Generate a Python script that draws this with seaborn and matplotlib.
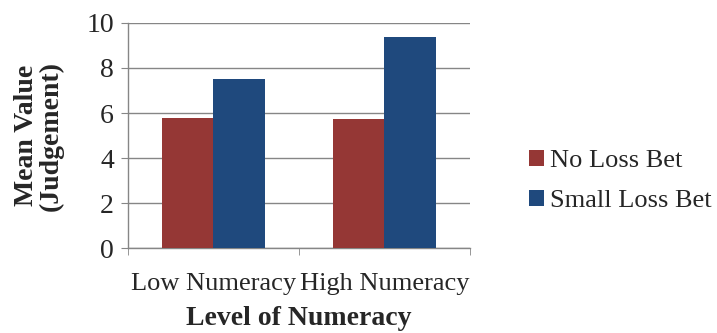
import pandas as pd
import seaborn as sns
import matplotlib.pyplot as plt
from matplotlib.ticker import FixedLocator

# ---- Data ----
groups = ['Low Numeracy', 'High Numeracy']
bets = ['No Loss Bet', 'Small Loss Bet']
no_loss = [5.76, 5.72]
small_loss = [7.49, 9.38]

df = pd.DataFrame({
    'group': groups * 2,
    'bet': [bets[0]] * 2 + [bets[1]] * 2,
    'value': no_loss + small_loss,
})

sns.set_style('white')
plt.rcParams['font.family'] = ['Liberation Serif', 'DejaVu Serif']

grey = '#868686'
fs = 19
fig = plt.figure(figsize=(7.17, 3.33), dpi=100)
ax = fig.add_axes([0.1785, 0.255, 0.477, 0.676])

sns.barplot(data=df, x='group', y='value', hue='bet', order=groups, hue_order=bets,
            palette=['#953735', '#1F497D'], width=0.6, saturation=1, ax=ax, zorder=3,
            linewidth=0)

ax.set_xlim(-0.5, 1.5)
ax.set_ylim(0, 10)
ax.set_yticks([0, 2, 4, 6, 8, 10])
ax.yaxis.grid(True, color=grey, linewidth=1, zorder=0)
ax.set_axisbelow(True)

for s in ['top', 'right']:
    ax.spines[s].set_visible(False)
for s in ['left', 'bottom']:
    ax.spines[s].set_color(grey)
    ax.spines[s].set_linewidth(1)

ax.tick_params(axis='y', length=5, color=grey, labelsize=20, pad=5, left=True)
ax.tick_params(axis='x', which='major', length=0, labelsize=fs, pad=18)
ax.xaxis.set_minor_locator(FixedLocator([-0.5, 0.5, 1.5]))
ax.tick_params(axis='x', which='minor', length=5, color=grey, bottom=True)

ax.set_xlabel('Level of Numeracy', fontsize=20, fontweight='bold', labelpad=8)
ax.set_ylabel('Mean Value\n(Judgement)', fontsize=20, fontweight='bold', labelpad=16,
              linespacing=1.0)

ax.legend(loc='center left', bbox_to_anchor=(1.142, 0.298), frameon=False, fontsize=fs,
          borderaxespad=0, handlelength=0.57, handleheight=0.57, handletextpad=0.23,
          labelspacing=0.65)

plt.savefig('out.png', dpi=100)
plt.close()
